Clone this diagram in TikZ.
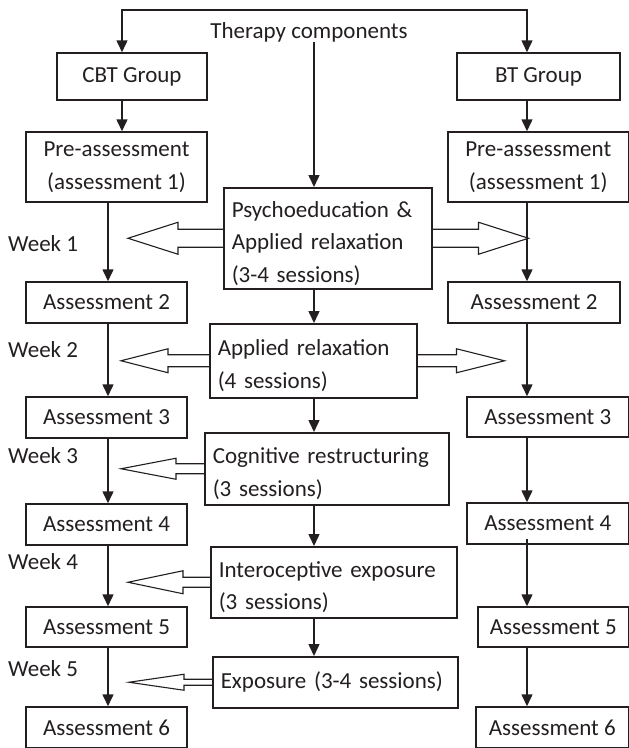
\documentclass[tikz,border=0pt]{standalone}
\usepackage{fontspec}
\setmainfont{Carlito}
\usetikzlibrary{arrows.meta,calc,positioning}
\definecolor{ink}{RGB}{35,31,32}

\begin{document}
\begin{tikzpicture}[x=1pt,y=-1pt,color=ink,
    font=\fontsize{23}{32.5}\selectfont,
    box/.style={draw,line width=1.5pt,inner sep=0pt,align=center},
    phase/.style={draw,line width=1.5pt,inner xsep=8pt,inner ysep=0pt,
      align=left,anchor=north west},
    lower/.style={execute at begin node={\rule{0pt}{26pt}}},
    arr/.style={line width=1.5pt,-{Triangle[length=12pt,width=11pt]}},
    fat/.style={line width=1.1pt},
    week/.style={anchor=west,inner sep=0pt}]
    % fat arrow: anchor, tip, head base, head half, shaft half
    \def\fat#1#2#3#4#5{
      \draw[fat] ($(#1)+(0,-#5)$) -- ($(#1)+(#3,-#5)$) -- ($(#1)+(#3,-#4)$)
        -- ($(#1)+(#2,0)$) -- ($(#1)+(#3,#4)$) -- ($(#1)+(#3,#5)$) -- ($(#1)+(0,#5)$);
    }
    \useasboundingbox (0,0) rectangle (629,748);
    \coordinate (tx) at (122,10);
    \coordinate (rx) at (527,10);
    \coordinate (lx) at (108,0);
    \coordinate (cx) at (314,0);

    % CBT side
    \node[box,minimum width=150pt,minimum height=47pt] (cbt) at (132,76.5) {CBT Group};
    \node[box,minimum width=181pt,minimum height=70pt] (preL) at (116.5,167) {Pre-assessment\\(assessment 1)};
    \node[box,minimum width=161pt,minimum height=41pt] (a2L) at (106.5,302.5) {Assessment 2};
    \node[box,minimum width=161pt,minimum height=41pt] (a3L) at (106.5,417.5) {Assessment 3};
    \node[box,minimum width=161pt,minimum height=41pt] (a4L) at (106.5,524.5) {Assessment 4};
    \node[box,minimum width=161pt,minimum height=40pt] (a5L) at (106.5,627) {Assessment 5};
    \node[box,minimum width=161pt,minimum height=41pt] (a6L) at (106.5,727.5) {Assessment 6};

    % BT side
    \node[box,minimum width=163pt,minimum height=47pt] (bt) at (538.5,76.5) {BT Group};
    \node[box,minimum width=180.5pt,minimum height=70pt] (preR) at (538.25,167) {Pre-assessment\\(assessment 1)};
    \node[box,minimum width=172pt,minimum height=41pt] (a2R) at (534,302.5) {Assessment 2};
    \node[box,minimum width=161.5pt,minimum height=40pt] (a3R) at (547.75,417) {Assessment 3};
    \node[box,minimum width=161.5pt,minimum height=41pt] (a4R) at (547.75,523.5) {Assessment 4};
    \node[box,minimum width=150.5pt,minimum height=40pt] (a5R) at (553.25,627) {Assessment 5};
    \node[box,minimum width=152.5pt,minimum height=41pt] (a6R) at (552.25,727.5) {Assessment 6};

    % therapy components
    \node[inner sep=0pt] (ther) at (309,32) {Therapy components};
    \node[phase,lower,text width=192pt,minimum height=101pt] (psy) at (223,187)
      {Psychoeducation \&\\Applied relaxation\\(3-4 sessions)};
    \node[phase,lower,text width=191pt,minimum height=74pt] (app) at (209,323)
      {Applied relaxation\\(4 sessions)};
    \node[phase,lower,text width=228pt,minimum height=72pt] (cog) at (204,432)
      {Cognitive restructuring\\(3 sessions)};
    \node[phase,lower,text width=230pt,minimum height=71pt] (int) at (210,546)
      {Interoceptive exposure\\(3 sessions)};
    \node[phase,text width=229pt,minimum height=51pt] (exp) at (212,656)
      {Exposure (3-4 sessions)};

    \foreach \n/\y in {1/244,2/350,3/456,4/562,5/669}
      \node[week] (week\n) at (8,\y) {Week \n};

    % connectors
    \draw[line width=1.5pt,{Triangle[length=12pt,width=11pt]}-{Triangle[length=12pt,width=11pt]}]
      (cbt.north -| tx) -- (tx) -- (rx) -- (bt.north -| rx);
    \draw[arr] (cbt.south -| tx) -- (preL.north -| tx);
    \draw[arr] (ther.south -| cx) -- (psy.north -| cx);
    \foreach \a/\b in {preL/a2L,a2L/a3L,a3L/a4L,a4L/a5L,a5L/a6L}
      \draw[arr] (\a.south -| lx) -- (\b.north -| lx);
    \foreach \a/\b in {bt/preR,preR/a2R,a2R/a3R,a3R/a4R,a5R/a6R}
      \draw[arr] (\a.south -| rx) -- (\b.north -| rx);
    \draw[arr] ([yshift=6pt]a4R.south -| rx) -- (a5R.north -| rx);
    \foreach \a/\b in {psy/app,app/cog,cog/int,int/exp}
      \draw[arr] (\a.south -| cx) -- (\b.north -| cx);

    \fat{psy.west}{-95}{-45}{16}{9}
    \fat{psy.east}{96}{46}{16}{9}
    \fat{app.west}{-88}{-41}{12}{6}
    \fat{app.east}{87}{39}{12}{6}
    \fat{cog.west}{-83}{-28}{10.5}{5}
    \fat{int.west}{-82}{-27}{11.5}{5}
    \fat{exp.west}{-83}{-28}{8}{3}
  \end{tikzpicture}
\end{document}
